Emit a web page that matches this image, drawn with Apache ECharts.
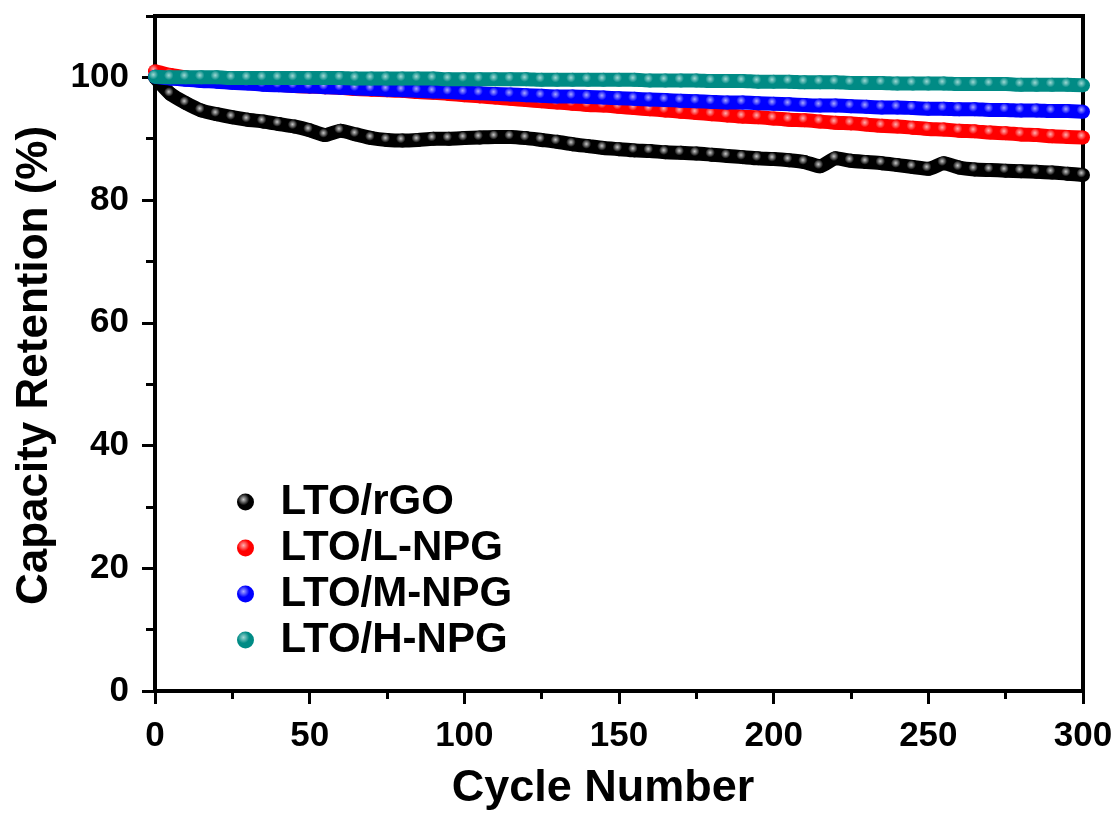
<!DOCTYPE html>
<html>
<head>
<meta charset="utf-8">
<title>Capacity Retention</title>
<script src="https://cdn.jsdelivr.net/npm/echarts@6/dist/echarts.min.js"></script>
<style>
  html, body { margin: 0; padding: 0; background: #fff; }
  #chart { width: 1117px; height: 816px; }
</style>
</head>
<body>
<div id="chart"></div>
<script>
// Cycle numbers at which retention was sampled
const cycles = [
  0, 5, 10, 15, 20, 25, 30, 35, 40, 45, 50, 55, 60, 65, 70, 75, 80, 85, 90, 95,
  100, 105, 110, 115, 120, 125, 130, 135, 140, 145, 150, 155, 160, 165, 170, 175, 180, 185, 190, 195,
  200, 205, 210, 215, 220, 225, 230, 235, 240, 245, 250, 255, 260, 265, 270, 275, 280, 285, 290, 295, 300
];

// Capacity retention (%) per sample
const rGO = [
  100.0, 97.3, 95.8, 94.6, 94.0, 93.5, 93.1, 92.8, 92.4, 92.0, 91.4, 90.6, 91.3, 90.7, 90.1, 89.8, 89.7, 89.8, 90.0, 90.0,
  90.1, 90.2, 90.3, 90.3, 90.1, 89.8, 89.5, 89.1, 88.8, 88.5, 88.3, 88.1, 88.0, 87.8, 87.7, 87.6, 87.4, 87.2, 87.0, 86.8,
  86.7, 86.5, 86.2, 85.5, 86.8, 86.4, 86.2, 86.0, 85.7, 85.4, 85.1, 86.0, 85.3, 85.0, 84.9, 84.8, 84.7, 84.6, 84.5, 84.3, 84.1
];
const lNPG = [
  101.0, 100.4, 100.0, 99.7, 99.5, 99.3, 99.1, 98.9, 98.8, 98.6, 98.5, 98.4, 98.3, 98.1, 98.0, 97.9, 97.8, 97.6, 97.5, 97.3,
  97.1, 96.9, 96.7, 96.5, 96.3, 96.1, 95.9, 95.7, 95.5, 95.4, 95.2, 95.0, 94.8, 94.6, 94.4, 94.2, 94.0, 93.8, 93.6, 93.5,
  93.3, 93.1, 93.0, 92.8, 92.6, 92.5, 92.3, 92.1, 92.0, 91.8, 91.6, 91.5, 91.3, 91.2, 91.0, 90.9, 90.7, 90.6, 90.4, 90.3, 90.2
];
const mNPG = [
  100.1, 99.8, 99.6, 99.4, 99.3, 99.1, 99.0, 98.8, 98.7, 98.6, 98.5, 98.4, 98.3, 98.2, 98.1, 98.0, 97.9, 97.8, 97.7, 97.6,
  97.5, 97.4, 97.3, 97.2, 97.1, 97.0, 96.9, 96.9, 96.8, 96.7, 96.6, 96.5, 96.4, 96.3, 96.2, 96.1, 96.0, 95.9, 95.9, 95.8,
  95.7, 95.6, 95.5, 95.4, 95.4, 95.3, 95.2, 95.1, 95.1, 95.0, 94.9, 94.9, 94.8, 94.8, 94.7, 94.7, 94.6, 94.6, 94.5, 94.5, 94.4
];
const hNPG = [
  100.1, 100.0, 100.0, 100.0, 100.0, 99.9, 99.9, 99.9, 99.9, 99.9, 99.9, 99.9, 99.9, 99.8, 99.8, 99.8, 99.8, 99.8, 99.8, 99.7,
  99.7, 99.7, 99.7, 99.7, 99.7, 99.6, 99.6, 99.6, 99.6, 99.6, 99.6, 99.6, 99.5, 99.5, 99.5, 99.5, 99.4, 99.4, 99.4, 99.3,
  99.3, 99.3, 99.2, 99.2, 99.2, 99.1, 99.1, 99.1, 99.0, 99.0, 99.0, 99.0, 98.9, 98.9, 98.9, 98.9, 98.8, 98.8, 98.8, 98.8, 98.7
];

const seriesNames = ['LTO/rGO', 'LTO/L-NPG', 'LTO/M-NPG', 'LTO/H-NPG'];
const seriesValues = [rGO, lNPG, mNPG, hNPG];
const baseColors = ['#000000', '#ff0000', '#0000ff', '#008b85'];
const highlightColors = ['#c8c8c8', '#ffb0b0', '#a8a8ff', '#9fd8d4'];

const yTicks = [0, 20, 40, 60, 80, 100];

const FONT = '"Liberation Sans", Arial, Helvetica, sans-serif';

function sphere(i) {
  return new echarts.graphic.RadialGradient(0.38, 0.35, 0.62, [
    { offset: 0, color: highlightColors[i] },
    { offset: 0.55, color: baseColors[i] },
    { offset: 1, color: baseColors[i] }
  ]);
}

const chart = echarts.init(document.getElementById('chart'), null, { renderer: 'canvas' });

const series = seriesNames.map((name, i) => ({
  name: name,
  type: 'line',
  data: cycles.map((c, k) => [c, seriesValues[i][k]]),
  smooth: 0.2,
  symbol: 'circle',
  symbolSize: 14,
  showSymbol: true,
  lineStyle: { color: baseColors[i], width: 14 },
  itemStyle: { color: sphere(i), borderWidth: 0 },
  z: 2 + i
}));

chart.setOption({
  animation: false,
  backgroundColor: '#ffffff',
  grid: {
    left: 155, right: 34, top: 16, bottom: 116,
    show: true, borderColor: '#000', borderWidth: 4, backgroundColor: 'transparent'
  },
  legend: {
    orient: 'vertical',
    left: 232,
    top: 476,
    icon: 'circle',
    itemWidth: 36,
    itemHeight: 17,
    itemGap: 4,
    selectedMode: false,
    data: seriesNames.map((n, i) => ({ name: n, itemStyle: { color: sphere(i) } })),
    textStyle: {
      fontFamily: FONT, fontWeight: 'bold', fontSize: 42, color: '#000',
      lineHeight: 42, padding: [0, 0, 0, 12]
    }
  },
  xAxis: {
    type: 'value',
    min: 0, max: 300, interval: 50,
    name: 'Cycle Number',
    nameLocation: 'middle',
    nameGap: 75,
    nameTextStyle: {
      fontFamily: FONT, fontWeight: 'bold', fontSize: 45, color: '#000',
      padding: [0, 32, 0, 0]
    },
    axisLine: { show: true, lineStyle: { color: '#000', width: 4 } },
    axisTick: { show: true, inside: false, length: 13, lineStyle: { color: '#000', width: 3 } },
    minorTick: { show: true, splitNumber: 2, length: 8, lineStyle: { color: '#000', width: 3 } },
    axisLabel: { fontFamily: FONT, fontWeight: 'bold', fontSize: 35, color: '#000', margin: 28 },
    splitLine: { show: false }
  },
  yAxis: [
    {
      type: 'value',
      min: 0, max: 110, interval: 20,
      name: 'Capacity Retention (%)',
      nameLocation: 'middle',
      nameGap: 98,
      nameTextStyle: {
        fontFamily: FONT, fontWeight: 'bold', fontSize: 44, color: '#000',
        padding: [0, 24, 0, 0]
      },
      axisLine: { show: true, lineStyle: { color: '#000', width: 4 } },
      axisTick: { show: true, inside: false, length: 13, customValues: yTicks, lineStyle: { color: '#000', width: 3 } },
      axisLabel: {
        fontFamily: FONT, fontWeight: 'bold', fontSize: 35, color: '#000', margin: 26,
        customValues: yTicks,
        formatter: v => (yTicks.indexOf(v) >= 0 ? String(v) : '')
      },
      splitLine: { show: false }
    },
    {
      // minor ticks every 10 %
      type: 'value',
      position: 'left',
      min: 0, max: 110, interval: 10,
      axisLine: { show: false },
      axisTick: { show: true, inside: false, length: 9, lineStyle: { color: '#000', width: 3 } },
      axisLabel: { show: false },
      splitLine: { show: false }
    }
  ],
  series: series
});
</script>
</body>
</html>
